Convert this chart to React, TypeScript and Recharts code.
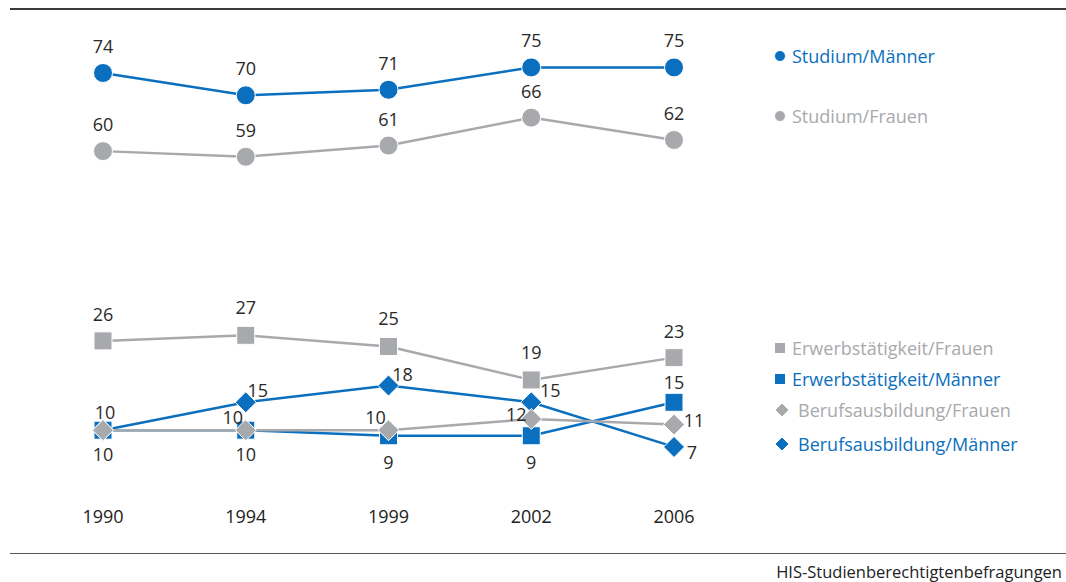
import React from "react";
import { LineChart, Line, XAxis, YAxis, LabelList } from "recharts";

const years = ["1990", "1994", "1999", "2002", "2006"];

const studiumMaenner = [74, 70, 71, 75, 75];
const studiumFrauen = [60, 59, 61, 66, 62];
const erwerbFrauen = [26, 27, 25, 19, 23];
const erwerbMaenner = [10, 10, 9, 9, 15];
const berufFrauen = [10, 10, 10, 12, 11];
const berufMaenner = [10, 15, 18, 15, 7];

const BLUE = "#0a6fbe";
const GRAY = "#a8a9ac";
const FONT = "'Open Sans', sans-serif";
const FS = 18;

type Shape = "circle" | "square" | "diamond";

// label offsets (dx, dy) per point, null = no label
type Off = [number, number] | null;

const series: {
  key: string;
  name: string;
  color: string;
  shape: Shape;
  values: number[];
  offsets: Off[];
}[] = [
  { key: "sm", name: "Studium/Männer", color: BLUE, shape: "circle", values: studiumMaenner,
    offsets: [[0, -27], [0, -27], [0, -27], [0, -27], [0, -27]] },
  { key: "sf", name: "Studium/Frauen", color: GRAY, shape: "circle", values: studiumFrauen,
    offsets: [[0, -27], [0, -27], [0, -27], [0, -27], [0, -27]] },
  { key: "ef", name: "Erwerbstätigkeit/Frauen", color: GRAY, shape: "square", values: erwerbFrauen,
    offsets: [[0, -27], [0, -28], [0, -28], [0, -28], [0, -27]] },
  { key: "em", name: "Erwerbstätigkeit/Männer", color: BLUE, shape: "square", values: erwerbMaenner,
    offsets: [[0, 24], [0, 24], [0, 26], [0, 26], [0, -20]] },
  { key: "bm", name: "Berufsausbildung/Männer", color: BLUE, shape: "diamond", values: berufMaenner,
    offsets: [null, [12, -12], [14, -12], [19, -12], [18, 5]] },
  { key: "bf", name: "Berufsausbildung/Frauen", color: GRAY, shape: "diamond", values: berufFrauen,
    offsets: [[2, -18], [-13, -13], [-13, -13], [-15, -5], [20, -5]] },
];

const legendOrder = [
  { name: "Studium/Männer", color: BLUE, shape: "circle" as Shape, top: 56, textX: 792 },
  { name: "Studium/Frauen", color: GRAY, shape: "circle" as Shape, top: 116, textX: 792 },
  { name: "Erwerbstätigkeit/Frauen", color: GRAY, shape: "square" as Shape, top: 348, textX: 792 },
  { name: "Erwerbstätigkeit/Männer", color: BLUE, shape: "square" as Shape, top: 379, textX: 792 },
  { name: "Berufsausbildung/Frauen", color: GRAY, shape: "diamond" as Shape, top: 410, textX: 798 },
  { name: "Berufsausbildung/Männer", color: BLUE, shape: "diamond" as Shape, top: 444, textX: 798 },
];

const data = years.map((year, i) => {
  const row: Record<string, string | number> = { year };
  series.forEach((s) => {
    row[s.key] = s.values[i];
  });
  return row;
});

function Marker({ cx, cy, shape, color, size }: { cx: number; cy: number; shape: Shape; color: string; size: number }) {
  if (shape === "circle") {
    return <circle cx={cx} cy={cy} r={size / 2} fill={color} stroke="#fff" strokeWidth={1} />;
  }
  if (shape === "square") {
    const h = size / 2;
    return <rect x={cx - h} y={cy - h} width={size} height={size} fill={color} stroke="#fff" strokeWidth={1} />;
  }
  const h = size / 2 + 1.5;
  return (
    <polygon
      points={`${cx},${cy - h} ${cx + h},${cy} ${cx},${cy + h} ${cx - h},${cy}`}
      fill={color}
      stroke="#fff"
      strokeWidth={1}
    />
  );
}

export default function App() {
  return (
    <div style={{ position: "absolute", left: 0, top: 0, width: 1066, height: 582, background: "#fff", fontFamily: FONT }}>
      <div style={{ position: "absolute", left: 10, right: 0, top: 8, height: 2, background: "#3a3a3a" }} />
      <div style={{ position: "absolute", left: 10, right: 0, top: 553, height: 1, background: "#555" }} />
      <div style={{ position: "absolute", right: 4, top: 562, fontSize: 16.5, color: "#222", lineHeight: "20px", whiteSpace: "nowrap" }}>
        HIS-Studienberechtigtenbefragungen
      </div>

      <LineChart
        width={1066}
        height={582}
        data={data}
        margin={{ top: 39.5, right: 392, bottom: 56, left: 103 }}
      >
        <XAxis
          dataKey="year"
          height={40}
          axisLine={false}
          tickLine={false}
          tickSize={0}
          tickMargin={0}
          interval={0}
          tick={(p: { x?: number; y?: number; payload?: { value: string } }) => (
            <text
              x={Number(p.x)}
              y={Number(p.y) + 30}
              textAnchor="middle"
              dominantBaseline="central"
              fontSize={FS}
              fontFamily={FONT}
              fill="#222"
            >
              {p.payload?.value}
            </text>
          )}
        />
        <YAxis hide domain={[0, 80]} />
        {series.map((s) => (
          <Line
            key={s.key}
            dataKey={s.key}
            name={s.name}
            stroke={s.color}
            strokeWidth={2.5}
            isAnimationActive={false}
            activeDot={false}
            dot={(p: { cx?: number; cy?: number; index?: number }) => (
              <Marker key={`${s.key}-${p.index}`} cx={Number(p.cx)} cy={Number(p.cy)} shape={s.shape} color={s.color} size={s.shape === "circle" ? 19 : 18} />
            )}
          >
            <LabelList
              dataKey={s.key}
              content={(p: { x?: number | string; y?: number | string; value?: number | string; index?: number }) => {
                const off = typeof p.index === "number" ? s.offsets[p.index] : null;
                if (!off) return null;
                return (
                  <text
                    x={Number(p.x) + off[0]}
                    y={Number(p.y) + off[1]}
                    textAnchor="middle"
                    dominantBaseline="central"
                    fontSize={FS}
                    fontFamily={FONT}
                    fill="#2a2a2a"
                  >
                    {p.value}
                  </text>
                );
              }}
            />
          </Line>
        ))}
      </LineChart>

      {legendOrder.map((l) => (
        <div key={l.name}>
          <svg
            style={{ position: "absolute", left: 770, top: l.top - 10 }}
            width={24}
            height={20}
          >
            <Marker cx={l.shape === "diamond" ? 12 : 10} cy={10} shape={l.shape} color={l.color} size={11} />
          </svg>
          <div
            style={{
              position: "absolute",
              left: l.textX,
              top: l.top - 13,
              fontSize: FS,
              lineHeight: "26px",
              color: l.color,
              whiteSpace: "nowrap",
            }}
          >
            {l.name}
          </div>
        </div>
      ))}
    </div>
  );
}
